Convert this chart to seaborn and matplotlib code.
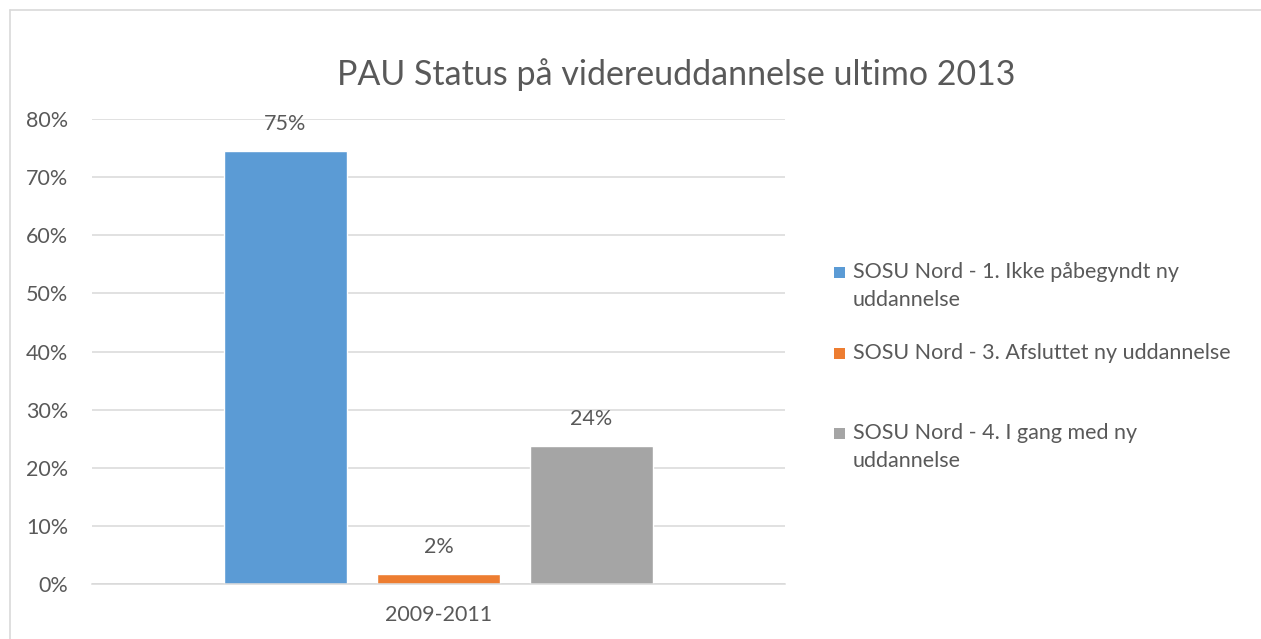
import matplotlib
matplotlib.use("Agg")
import matplotlib.pyplot as plt
import seaborn as sns
import pandas as pd
from matplotlib.patches import Rectangle
from matplotlib.lines import Line2D

# ---- data ----
period = ["2009-2011"]
series = [
    "SOSU Nord - 1. Ikke påbegyndt ny uddannelse",
    "SOSU Nord - 3. Afsluttet ny uddannelse",
    "SOSU Nord - 4. I gang med ny uddannelse",
]
legend_lines = [
    ["SOSU Nord - 1. Ikke påbegyndt ny", "uddannelse"],
    ["SOSU Nord - 3. Afsluttet ny uddannelse"],
    ["SOSU Nord - 4. I gang med ny", "uddannelse"],
]
values = [0.745, 0.017, 0.2375]
value_labels = ["75%", "2%", "24%"]
y_ticks = [0, 0.1, 0.2, 0.3, 0.4, 0.5, 0.6, 0.7, 0.8]
y_tick_labels = ["0%", "10%", "20%", "30%", "40%", "50%", "60%", "70%", "80%"]
title = "PAU Status på videreuddannelse ultimo 2013"
colors = ["#5B9BD5", "#ED7D31", "#A5A5A5"]

df = pd.DataFrame({"period": period * len(series), "series": series, "value": values})

sns.set_theme(style="white")
plt.rcParams["font.family"] = ["Lato", "DejaVu Sans"]
TXT = "#595959"
GRID = "#D9D9D9"
FS = 15.5

W, H = 1261, 639
fig = plt.figure(figsize=(W / 100, H / 100), dpi=100)
fig.patch.set_facecolor("white")
ax = fig.add_axes([92 / W, 1 - 584 / H, (785 - 92) / W, (584 - 119) / H])

sns.barplot(data=df, x="period", y="value", hue="series", palette=colors,
            width=0.8, gap=0.2, ax=ax, legend=False, saturation=1)

ax.set_ylim(0, 0.8)
ax.set_xlim(-0.604, 0.604)
ax.set_yticks(y_ticks)
ax.set_yticklabels(y_tick_labels)
ax.set_xlabel("")
ax.set_ylabel("")
ax.tick_params(axis="y", length=0, pad=17, labelsize=FS, labelcolor=TXT)
ax.tick_params(axis="x", length=0, pad=15, labelsize=FS, labelcolor=TXT)
ax.yaxis.grid(True, color=GRID, linewidth=1.1)
ax.set_axisbelow(True)
for s in ["left", "right", "top"]:
    ax.spines[s].set_visible(False)
ax.spines["bottom"].set_color(GRID)
ax.spines["bottom"].set_linewidth(1.1)

for cont, lab in zip(ax.containers, value_labels):
    for bar in cont:
        ax.annotate(lab, (bar.get_x() + bar.get_width() / 2, bar.get_height()),
                    xytext=(0, 19.5), textcoords="offset points",
                    ha="center", va="center", fontsize=FS, color=TXT)

fig.text(676 / W, 1 - 75 / H, title, ha="center", va="center", fontsize=24.5, color=TXT)

# legend (manual, Excel-like layout)
entry_y = [272, 353, 433]
line_h = 28
for lines, c, y0 in zip(legend_lines, colors, entry_y):
    fig.patches.append(Rectangle((834 / W, 1 - (y0 + 6) / H), 11 / W, 11 / H,
                                 transform=fig.transFigure, facecolor=c, edgecolor="none"))
    for i, ln in enumerate(lines):
        fig.text(853 / W, 1 - (y0 + i * line_h) / H, ln, ha="left", va="center",
                 fontsize=FS, color=TXT)

# chart-area border (top and left visible)
fig.lines.append(Line2D([9.5 / W, 1], [1 - 9.5 / H, 1 - 9.5 / H], transform=fig.transFigure,
                        color="#D9D9D9", linewidth=1.2))
fig.lines.append(Line2D([9.5 / W, 9.5 / W], [0, 1 - 9.5 / H], transform=fig.transFigure,
                        color="#D9D9D9", linewidth=1.2))

fig.savefig("out.png", dpi=100, facecolor="white")
